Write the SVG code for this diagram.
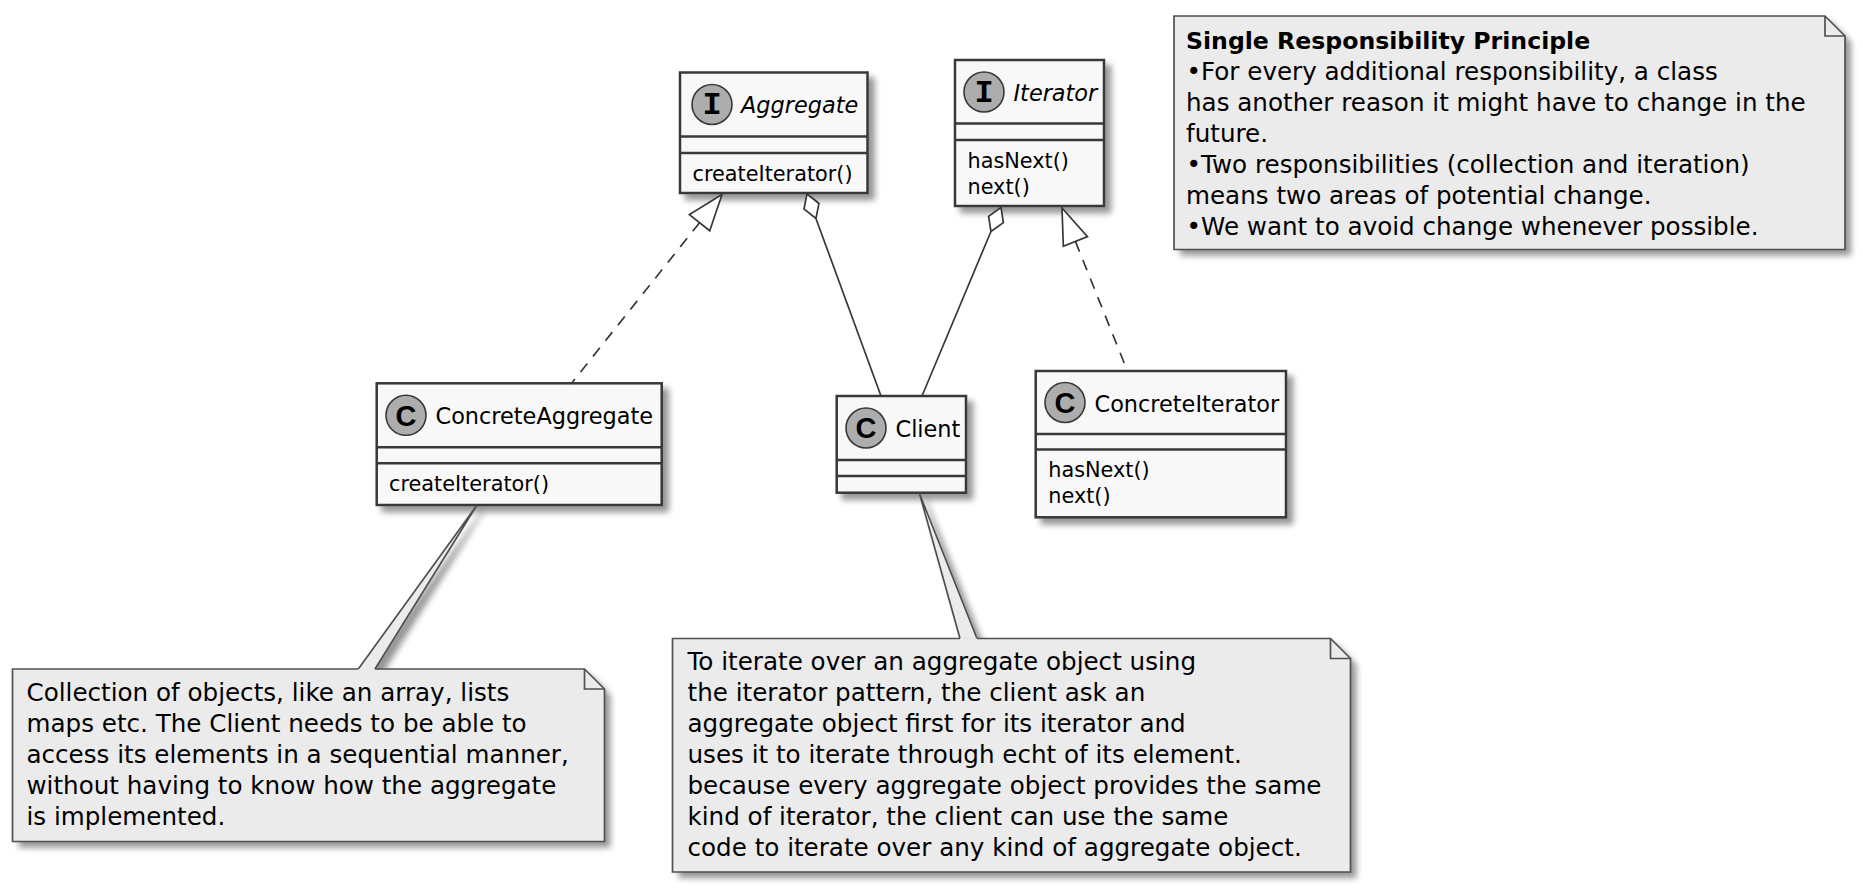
<svg xmlns="http://www.w3.org/2000/svg" width="1863" height="894" viewBox="0 0 1863 894">
<defs>
<filter id="sh" x="-10%" y="-10%" width="130%" height="130%">
<feGaussianBlur in="SourceAlpha" stdDeviation="3"/>
<feOffset dx="6" dy="6" result="b"/>
<feComponentTransfer><feFuncA type="linear" slope="0.42"/></feComponentTransfer>
<feMerge><feMergeNode/><feMergeNode in="SourceGraphic"/></feMerge>
</filter>
<style>
.box{fill:#F8F8F8;stroke:#383838;stroke-width:2.5}
.div{stroke:#383838;stroke-width:2.5}
.circ{fill:#ADADAD;stroke:#383838;stroke-width:1.6}
.glI{font-family:"Liberation Mono",monospace;font-weight:bold;font-size:32px;fill:#000;text-anchor:middle}
.glC{font-family:"Liberation Sans",sans-serif;font-weight:bold;font-size:29px;fill:#000;text-anchor:middle}
.name{font-family:"DejaVu Sans",sans-serif;font-size:22.4px;fill:#000}
.it{font-style:italic}
.mem{font-family:"DejaVu Sans",sans-serif;font-size:20.8px;fill:#000}
.nfill{fill:#EBEBEB}
.nline{fill:none;stroke:#505050;stroke-width:1.7}
.ntxt{font-family:"DejaVu Sans",sans-serif;font-size:24.6px;fill:#000}
.b{font-weight:bold;font-size:23.6px}
.edge{fill:none;stroke:#383838;stroke-width:1.7}
.dash{stroke-dasharray:11,9}
.head{fill:#FFFFFF;stroke:#383838;stroke-width:1.7}
.tail{fill:#EBEBEB;stroke:#505050;stroke-width:1.7}
</style>
</defs>
<rect x="0" y="0" width="1863" height="894" fill="#FFFFFF"/>

<g id="Aggregate">
<rect class="box" x="680" y="72.5" width="187.5" height="120.5" filter="url(#sh)"/>
<line class="div" x1="680" y1="136.5" x2="867.5" y2="136.5"/>
<line class="div" x1="680" y1="153" x2="867.5" y2="153"/>
<circle class="circ" cx="712" cy="104.5" r="20"/>
<text class="glI" x="712" y="114">I</text>
<text class="name it" x="741" y="113">Aggregate</text>
<text class="mem" x="692.5" y="181">createIterator()</text>
</g>

<g id="Iterator">
<rect class="box" x="955" y="60" width="149" height="146" filter="url(#sh)"/>
<line class="div" x1="955" y1="123.5" x2="1104" y2="123.5"/>
<line class="div" x1="955" y1="140" x2="1104" y2="140"/>
<circle class="circ" cx="984" cy="92" r="20"/>
<text class="glI" x="984" y="101.5">I</text>
<text class="name it" x="1013.5" y="100.5">Iterator</text>
<text class="mem" x="967.5" y="168">hasNext()</text>
<text class="mem" x="967.5" y="194">next()</text>
</g>

<g id="ConcreteAggregate">
<rect class="box" x="376.7" y="383.3" width="285" height="121.7" filter="url(#sh)"/>
<line class="div" x1="376.7" y1="447.3" x2="661.7" y2="447.3"/>
<line class="div" x1="376.7" y1="463.3" x2="661.7" y2="463.3"/>
<circle class="circ" cx="406" cy="415.3" r="20"/>
<text class="glC" x="406" y="425.5">C</text>
<text class="name" x="435.5" y="423.8">ConcreteAggregate</text>
<text class="mem" x="389" y="491">createIterator()</text>
</g>

<g id="Client">
<rect class="box" x="836.7" y="396" width="129.3" height="96.7" filter="url(#sh)"/>
<line class="div" x1="836.7" y1="460" x2="966" y2="460"/>
<line class="div" x1="836.7" y1="476" x2="966" y2="476"/>
<circle class="circ" cx="866" cy="428" r="20"/>
<text class="glC" x="866" y="438.2">C</text>
<text class="name" x="895.5" y="436.5">Client</text>
</g>

<g id="ConcreteIterator">
<rect class="box" x="1035.7" y="371" width="250.3" height="146.3" filter="url(#sh)"/>
<line class="div" x1="1035.7" y1="434" x2="1286" y2="434"/>
<line class="div" x1="1035.7" y1="449.5" x2="1286" y2="449.5"/>
<circle class="circ" cx="1065" cy="402.5" r="20"/>
<text class="glC" x="1065" y="412.7">C</text>
<text class="name" x="1094.5" y="411.5">ConcreteIterator</text>
<text class="mem" x="1048.3" y="477">hasNext()</text>
<text class="mem" x="1048.3" y="503">next()</text>
</g>

<g id="connectors">
<path class="edge dash" d="M699.56,222.66 L571,384"/>
<polygon class="head" points="722,194.5 709.73,230.76 689.39,214.56"/>
<path class="edge dash" d="M1075.4,241.4 L1127,370"/>
<polygon class="head" points="1062,208 1087.46,236.56 1063.34,246.24"/>
<path class="edge" d="M815.94,218.42 L881,396"/>
<polygon class="head" points="807,194 818.98,203.46 815.94,218.42 803.96,208.96"/>
<path class="edge" d="M990.95,231.48 L922,396"/>
<polygon class="head" points="1001,207.5 1003.36,222.58 990.95,231.48 988.6,216.4"/>
<path class="tail" d="M358.3,669 L476.7,505.5 L375,669" filter="url(#sh)"/>
<path class="tail" d="M960,638.5 L919.5,493.5 L977,638.5" filter="url(#sh)"/>
</g>

<g id="note-aggregate">
<path class="nfill" d="M12.5,669 H584.5 L604.5,689 V841.5 H12.5 Z" filter="url(#sh)"/>
<path class="nline" d="M375,669 H584.5 L604.5,689 V841.5 H12.5 V669 H358.3"/>
<path class="nline" d="M584.5,669 V689 H604.5"/>
<text class="ntxt" x="26.5" y="700.5">Collection of objects, like an array, lists</text>
<text class="ntxt" x="26.5" y="731.5">maps etc. The Client needs to be able to</text>
<text class="ntxt" x="26.5" y="762.5">access its elements in a sequential manner,</text>
<text class="ntxt" x="26.5" y="793.5">without having to know how the aggregate</text>
<text class="ntxt" x="26.5" y="824.5">is implemented.</text>
</g>

<g id="note-client">
<path class="nfill" d="M672.5,638.5 H1330.5 L1350.5,658.5 V872 H672.5 Z" filter="url(#sh)"/>
<path class="nline" d="M977,638.5 H1330.5 L1350.5,658.5 V872 H672.5 V638.5 H960"/>
<path class="nline" d="M1330.5,638.5 V658.5 H1350.5"/>
<text class="ntxt" x="687.5" y="670">To iterate over an aggregate object using</text>
<text class="ntxt" x="687.5" y="701">the iterator pattern, the client ask an</text>
<text class="ntxt" x="687.5" y="732">aggregate object first for its iterator and</text>
<text class="ntxt" x="687.5" y="763">uses it to iterate through echt of its element.</text>
<text class="ntxt" x="687.5" y="794">because every aggregate object provides the same</text>
<text class="ntxt" x="687.5" y="825">kind of iterator, the client can use the same</text>
<text class="ntxt" x="687.5" y="856">code to iterate over any kind of aggregate object.</text>
</g>

<g id="note-srp">
<path class="nfill" d="M1174,16 H1825 L1845,36 V249.5 H1174 Z" filter="url(#sh)"/>
<path class="nline" d="M1174,16 H1825 L1845,36 V249.5 H1174 Z"/>
<path class="nline" d="M1825,16 V36 H1845"/>
<text class="ntxt b" x="1186" y="49">Single Responsibility Principle</text>
<text class="ntxt" x="1186.5" y="80">•For every additional responsibility, a class</text>
<text class="ntxt" x="1186" y="111">has another reason it might have to change in the</text>
<text class="ntxt" x="1186" y="142">future.</text>
<text class="ntxt" x="1186.5" y="173">•Two responsibilities (collection and iteration)</text>
<text class="ntxt" x="1186" y="204">means two areas of potential change.</text>
<text class="ntxt" x="1186.5" y="235">•We want to avoid change whenever possible.</text>
</g>
</svg>
